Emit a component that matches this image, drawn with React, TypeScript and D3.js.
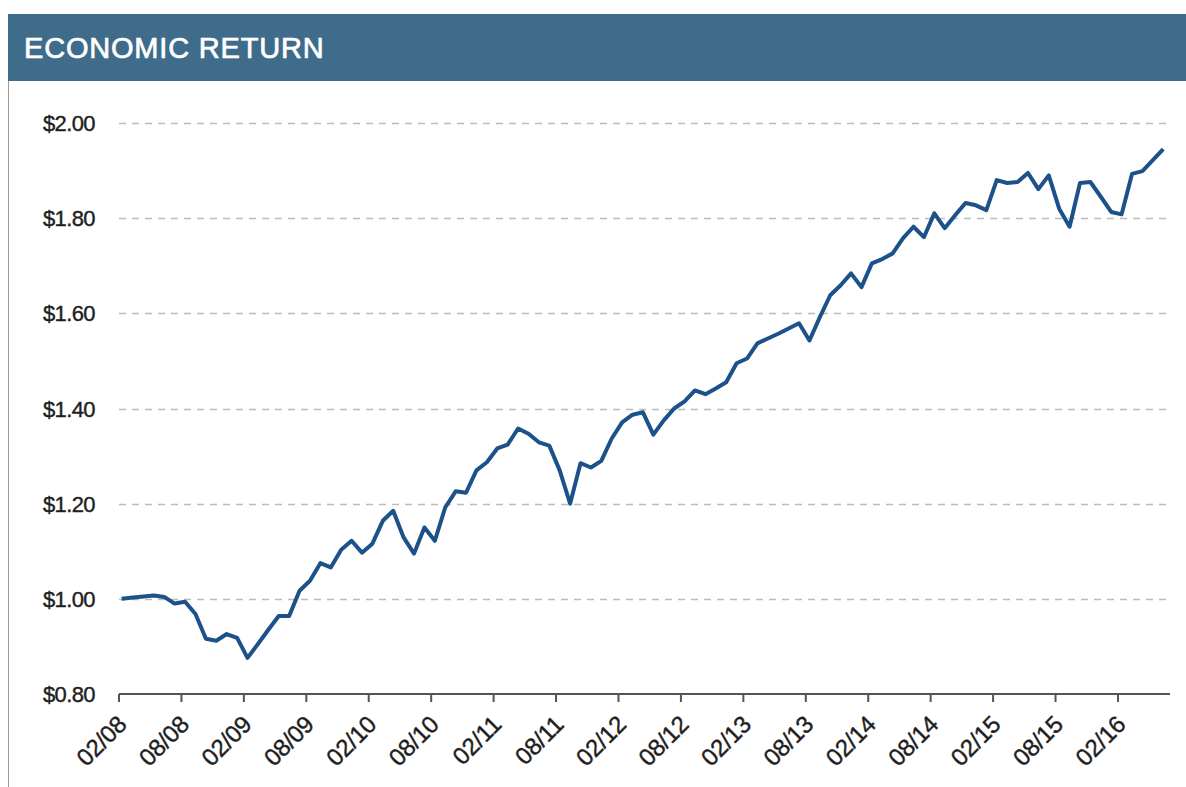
import React, { useEffect, useRef } from 'react';
import * as d3 from 'd3';

// monthly economic return, Feb 2008 .. Jun 2016
const returns = [
    1.000, 1.003, 1.005, 1.007, 1.004, 0.990, 0.994, 0.968, 0.916, 0.912,
    0.926, 0.918, 0.876, 0.905, 0.935, 0.964, 0.964, 1.017, 1.038, 1.075,
    1.066, 1.103, 1.122, 1.097, 1.116, 1.164, 1.185, 1.129, 1.095, 1.150,
    1.122, 1.192, 1.226, 1.223, 1.270, 1.287, 1.316, 1.324, 1.358, 1.347,
    1.329, 1.322, 1.270, 1.200, 1.285, 1.276, 1.290, 1.337, 1.371, 1.387,
    1.392, 1.345, 1.375, 1.400, 1.415, 1.438, 1.430, 1.442, 1.455, 1.495,
    1.505, 1.537, 1.547, 1.557, 1.568, 1.579, 1.543, 1.592, 1.638, 1.659,
    1.684, 1.655, 1.705, 1.714, 1.726, 1.758, 1.782, 1.760, 1.810, 1.779,
    1.806, 1.832, 1.827, 1.817, 1.880, 1.874, 1.876, 1.895, 1.861, 1.890,
    1.820, 1.782, 1.874, 1.876, 1.845, 1.813, 1.808, 1.893, 1.899, 1.922,
    1.945
];

const xTickLabels = ['02/08', '08/08', '02/09', '08/09', '02/10', '08/10', '02/11', '08/11', '02/12',
    '08/12', '02/13', '08/13', '02/14', '08/14', '02/15', '08/15', '02/16'];
const yTicks = [0.8, 1.0, 1.2, 1.4, 1.6, 1.8, 2.0];

const title = 'ECONOMIC RETURN';

export default function App() {
    const ref = useRef<SVGSVGElement>(null);

    useEffect(() => {
        const svg = d3.select(ref.current);
        svg.selectAll('*').remove();

        const W = 1186, H = 787;
        const left = 119, right = 1170, top = 123, bottom = 694;
        const font = 'Arial, "Liberation Sans", sans-serif';

        svg.append('rect').attr('width', W).attr('height', H).attr('fill', '#fff');

        // frame + header band
        svg.append('line')
            .attr('x1', 8.5).attr('x2', 8.5).attr('y1', 14).attr('y2', H)
            .attr('stroke', '#9a9a9a').attr('stroke-width', 1);
        svg.append('rect')
            .attr('x', 8).attr('y', 14).attr('width', W - 8).attr('height', 67)
            .attr('fill', '#3f6c8a');
        svg.append('text')
            .attr('x', 24).attr('y', 58)
            .attr('fill', '#fff')
            .attr('stroke', '#fff')
            .attr('stroke-width', 0.7)
            .attr('font-family', font)
            .attr('font-size', 29)
            .attr('letter-spacing', 0.8)
            .text(title);

        // scales: one step per month, points sit a bit into the month
        const xScale = d3.scaleLinear()
            .domain([0, 101])
            .range([left, right]);
        const yScale = d3.scaleLinear()
            .domain([0.8, 2.0])
            .range([bottom, top]);

        const g = svg.append('g');

        // dashed grid
        g.selectAll('line.grid')
            .data(yTicks.filter(d => d > 0.8))
            .enter().append('line')
            .attr('class', 'grid')
            .attr('x1', left).attr('x2', right)
            .attr('y1', d => Math.round(yScale(d)) + 0.5)
            .attr('y2', d => Math.round(yScale(d)) + 0.5)
            .attr('stroke', '#bdbdbd')
            .attr('stroke-width', 1.5)
            .attr('stroke-dasharray', '7,6');

        // y labels
        g.selectAll('text.ylab')
            .data(yTicks)
            .enter().append('text')
            .attr('class', 'ylab')
            .attr('x', 95)
            .attr('y', d => yScale(d))
            .attr('dy', '0.37em')
            .attr('text-anchor', 'end')
            .attr('font-family', font)
            .attr('font-size', 22)
            .attr('letter-spacing', -0.6)
            .attr('fill', '#1e1e1e')
            .attr('stroke', '#1e1e1e')
            .attr('stroke-width', 0.4)
            .text(d => '$' + d.toFixed(2));

        // x axis
        g.append('line')
            .attr('x1', left).attr('x2', right)
            .attr('y1', bottom).attr('y2', bottom)
            .attr('stroke', '#555').attr('stroke-width', 2);

        g.selectAll('line.xtick')
            .data(xTickLabels)
            .enter().append('line')
            .attr('class', 'xtick')
            .attr('x1', (d, i) => xScale(i * 6)).attr('x2', (d, i) => xScale(i * 6))
            .attr('y1', bottom).attr('y2', bottom + 8)
            .attr('stroke', '#555').attr('stroke-width', 2);

        g.selectAll('text.xlab')
            .data(xTickLabels)
            .enter().append('text')
            .attr('class', 'xlab')
            .attr('text-anchor', 'end')
            .attr('transform', (d, i) => `translate(${xScale(i * 6) + 9},${bottom + 32}) rotate(-45)`)
            .attr('font-family', font)
            .attr('font-size', 24)
            .attr('letter-spacing', -0.3)
            .attr('fill', '#1e1e1e')
            .attr('stroke', '#1e1e1e')
            .attr('stroke-width', 0.4)
            .text(d => d);

        // the line
        g.append('path')
            .datum(returns)
            .attr('fill', 'none')
            .attr('stroke', '#1d5189')
            .attr('stroke-width', 4)
            .attr('stroke-linejoin', 'round')
            .attr('d', d3.line<number>()
                .x((d, i) => xScale(i === 0 ? 0.25 : i + 0.35))
                .y(d => yScale(d))
            );
    }, []);

    return (
        <div style={{ position: 'absolute', left: 0, top: 0 }}>
            <svg ref={ref} width={1186} height={787} style={{ display: 'block' }}></svg>
        </div>
    );
}
